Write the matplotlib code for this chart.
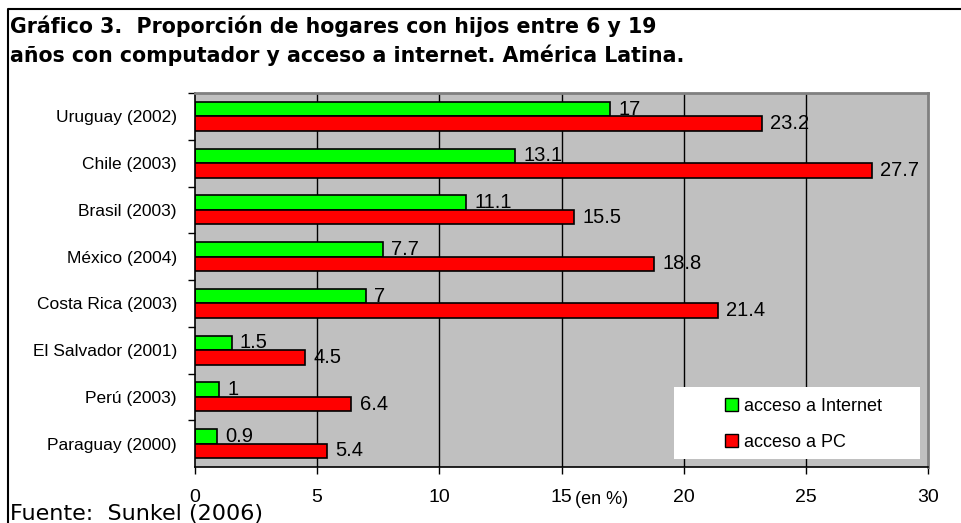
import matplotlib.pyplot as plt
from matplotlib.lines import Line2D
from matplotlib.patches import Patch, Rectangle

countries = [
    "Uruguay (2002)",
    "Chile (2003)",
    "Brasil (2003)",
    "México (2004)",
    "Costa Rica (2003)",
    "El Salvador (2001)",
    "Perú (2003)",
    "Paraguay (2000)",
]
internet = [17, 13.1, 11.1, 7.7, 7, 1.5, 1, 0.9]
pc = [23.2, 27.7, 15.5, 18.8, 21.4, 4.5, 6.4, 5.4]
x_ticks = [0, 5, 10, 15, 20, 25, 30]

GREEN = "#00FF00"
RED = "#FF0000"
GRAY = "#C0C0C0"
SANS = "Liberation Sans"

W, H = 961, 523
fig = plt.figure(figsize=(W / 100, H / 100), dpi=100)
ax = fig.add_axes([195 / W, 1 - 467 / H, 733 / W, 374 / H])
ax.set_facecolor(GRAY)

pos = list(range(len(countries)))
h = 0.31
off = 0.155
ax.barh([p - off for p in pos], internet, height=h, color=GREEN,
        edgecolor="black", linewidth=1.2, zorder=2)
ax.barh([p + off for p in pos], pc, height=h, color=RED,
        edgecolor="black", linewidth=1.2, zorder=4)

# value labels; red bars are drawn over the green labels as in the original
for p, v in zip(pos, internet):
    ax.annotate(f"{v:g}", (v, p - off), xytext=(6, 0), textcoords="offset points",
                va="center", ha="left", fontsize=14.5, family=SANS, zorder=3)
for p, v in zip(pos, pc):
    ax.annotate(f"{v:g}", (v, p + off), xytext=(6, 0), textcoords="offset points",
                va="center", ha="left", fontsize=14.5, family=SANS, zorder=5)

ax.set_xlim(0, 30)
ax.set_ylim(len(countries) - 0.5, -0.5)
ax.set_xticks(x_ticks)
ax.set_xticklabels([str(t) for t in x_ticks], fontsize=14, family=SANS)
ax.set_yticks(pos)
ax.set_yticklabels(countries, fontsize=12.5, family=SANS)
ax.set_yticks([p + 0.5 for p in pos[:-1]] + [-0.5], minor=True)
ax.tick_params(axis="y", which="major", length=0, pad=13)
ax.tick_params(axis="y", which="minor", length=5, direction="out", width=1)
ax.tick_params(axis="x", length=5, direction="out", width=1, pad=11)

for t in x_ticks[1:-1]:
    ax.axvline(t, color="black", linewidth=1, zorder=1)

for side in ("left", "bottom"):
    ax.spines[side].set_color("black")
    ax.spines[side].set_linewidth(1.2)
for side in ("top", "right"):
    ax.spines[side].set_color("#808080")
    ax.spines[side].set_linewidth(2)

# legend box
ax.add_patch(Rectangle((0.653, 0.021), 0.336, 0.193, transform=ax.transAxes,
                       facecolor="white", edgecolor="none", zorder=6))
handles = [Patch(facecolor=GREEN, edgecolor="black", label="acceso a Internet"),
           Patch(facecolor=RED, edgecolor="black", label="acceso a PC")]
leg = ax.legend(handles=handles, loc="upper left",
                bbox_to_anchor=((716 - 195) / 733, (467 - 389) / 374),
                frameon=False, handlelength=0.7, handleheight=0.7,
                handletextpad=0.35, labelspacing=1.05, borderpad=0,
                prop={"family": SANS, "size": 13})
leg.set_zorder(7)

fig.text(10 / W, 1 - 26 / H, "Gráfico 3.  Proporción de hogares con hijos entre 6 y 19",
         fontsize=14.8, fontweight="bold", family="DejaVu Sans", va="center")
fig.text(10 / W, 1 - 55 / H, "años con computador y acceso a internet. América Latina.",
         fontsize=14.8, fontweight="bold", family="DejaVu Sans", va="center")
fig.text(602 / W, 1 - 499 / H, "(en %)", fontsize=13, family=SANS,
         ha="center", va="center")
fig.text(10 / W, 1 - 514 / H, "Fuente:  Sunkel (2006)", fontsize=16,
         family="DejaVu Sans", va="center")

# outer frame
fig.add_artist(Line2D([8 / W, 8 / W, 1], [0, 1 - 9 / H, 1 - 9 / H],
                      color="black", linewidth=1.5, transform=fig.transFigure))

fig.savefig("out.png", dpi=100)
